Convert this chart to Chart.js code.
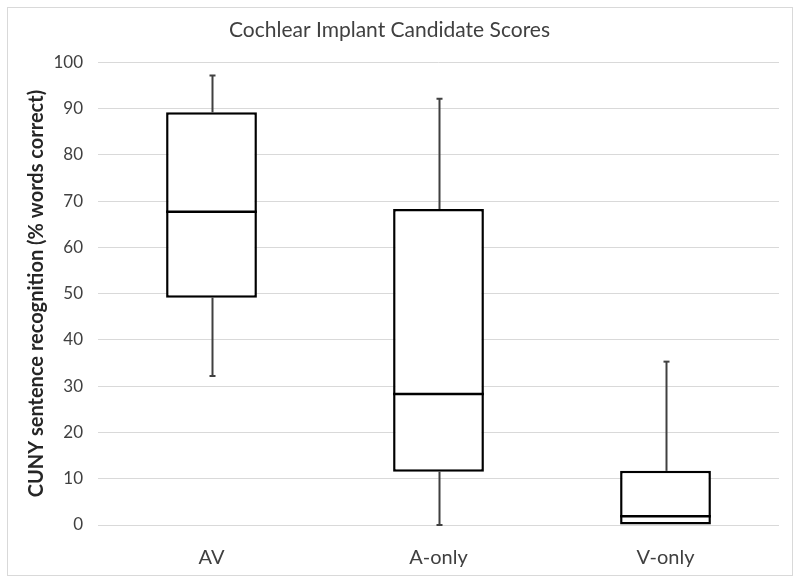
<!DOCTYPE html>
<html>
<head>
<meta charset="utf-8">
<script src="https://cdn.jsdelivr.net/npm/chart.js@4.4.1/dist/chart.umd.min.js"></script>
<style>
  html, body { margin: 0; padding: 0; background: #fff; }
  #wrap { width: 800px; height: 583px; position: relative; }
</style>
</head>
<body>
<div id="wrap"><canvas id="boxChart" width="800" height="583"></canvas></div>
<script>
// Box plot values
const groups = ["AV", "A-only", "V-only"];
const mins = [32.2, 0, 0];
const q1s = [49.1, 11.5, 0];
const medians = [67.7, 28.3, 1.9];
const q3s = [89.2, 68.3, 11.7];
const maxs = [97.1, 92.1, 35.3];
const yTicks = [0, 10, 20, 30, 40, 50, 60, 70, 80, 90, 100];

const FONT = "Lato, 'Open Sans', sans-serif";

// frame around the whole figure
const framePlugin = {
  id: "frame",
  beforeDraw(chart) {
    const ctx = chart.ctx;
    ctx.save();
    ctx.fillStyle = "#ffffff";
    ctx.fillRect(0, 0, chart.width, chart.height);
    ctx.strokeStyle = "#d9d9d9";
    ctx.lineWidth = 1;
    ctx.strokeRect(7.5, 7.5, 785, 568);
    ctx.restore();
  }
};

// whiskers behind the boxes, medians on top
const boxPlugin = {
  id: "boxParts",
  beforeDatasetsDraw(chart) {
    const ctx = chart.ctx;
    const x = chart.scales.x, y = chart.scales.y;
    ctx.save();
    ctx.strokeStyle = "#404040";
    ctx.lineWidth = 2;
    groups.forEach((g, i) => {
      const cx = Math.round(x.getPixelForValue(i)) + 0.5;
      ctx.beginPath();
      ctx.moveTo(cx, y.getPixelForValue(maxs[i]));
      ctx.lineTo(cx, y.getPixelForValue(q3s[i]));
      if (mins[i] < q1s[i]) {
        ctx.moveTo(cx, y.getPixelForValue(q1s[i]));
        ctx.lineTo(cx, y.getPixelForValue(mins[i]));
      }
      ctx.stroke();
      // small caps
      ctx.beginPath();
      const py = y.getPixelForValue(maxs[i]);
      ctx.moveTo(cx - 3, py);
      ctx.lineTo(cx + 3, py);
      if (mins[i] < q1s[i]) {
        const pm = y.getPixelForValue(mins[i]);
        ctx.moveTo(cx - 3, pm);
        ctx.lineTo(cx + 3, pm);
      }
      ctx.stroke();
    });
    ctx.restore();
  },
  afterDatasetsDraw(chart) {
    const ctx = chart.ctx;
    const meta = chart.getDatasetMeta(0);
    const y = chart.scales.y;
    ctx.save();
    ctx.strokeStyle = "#000000";
    ctx.lineWidth = 2.5;
    meta.data.forEach((bar, i) => {
      const half = bar.width / 2;
      const py = y.getPixelForValue(medians[i]);
      ctx.beginPath();
      ctx.moveTo(bar.x - half, py);
      ctx.lineTo(bar.x + half, py);
      ctx.stroke();
    });
    ctx.restore();
  }
};

new Chart(document.getElementById("boxChart"), {
  type: "bar",
  data: {
    labels: groups,
    datasets: [{
      label: "Scores",
      data: groups.map((g, i) => [q1s[i], q3s[i]]),
      backgroundColor: "#ffffff",
      borderColor: "#000000",
      borderWidth: 2.5,
      borderSkipped: false,
      barPercentage: 0.4,
      categoryPercentage: 1.0
    }]
  },
  options: {
    responsive: false,
    animation: false,
    devicePixelRatio: 1,
    layout: { padding: { left: 0, right: 21, top: 0, bottom: 8 } },
    plugins: {
      legend: { display: false },
      tooltip: { enabled: false },
      title: {
        display: true,
        text: "Cochlear Implant Candidate Scores",
        color: "#404040",
        font: { family: FONT, size: 21, weight: "normal" },
        padding: { top: 18, bottom: 19 }
      }
    },
    scales: {
      x: {
        offset: true,
        grid: { display: false },
        border: { display: false },
        ticks: { color: "#404040", font: { family: FONT, size: 20 }, padding: 13 },
        afterFit(scale) { scale.height = 50; }
      },
      y: {
        min: 0,
        max: 100,
        afterBuildTicks(scale) { scale.ticks = yTicks.map(v => ({ value: v })); },
        grid: { color: "#d9d9d9", lineWidth: 1, drawTicks: false },
        border: { display: false },
        ticks: { color: "#404040", font: { family: FONT, size: 17 }, padding: 15 },
        title: {
          display: true,
          text: "CUNY sentence recognition (% words correct)",
          color: "#262626",
          font: { family: FONT, size: 20, weight: "bold" },
          padding: { top: 25, bottom: 0 }
        },
        afterFit(scale) { scale.width = 98; }
      }
    }
  },
  plugins: [framePlugin, boxPlugin]
});
</script>
</body>
</html>
